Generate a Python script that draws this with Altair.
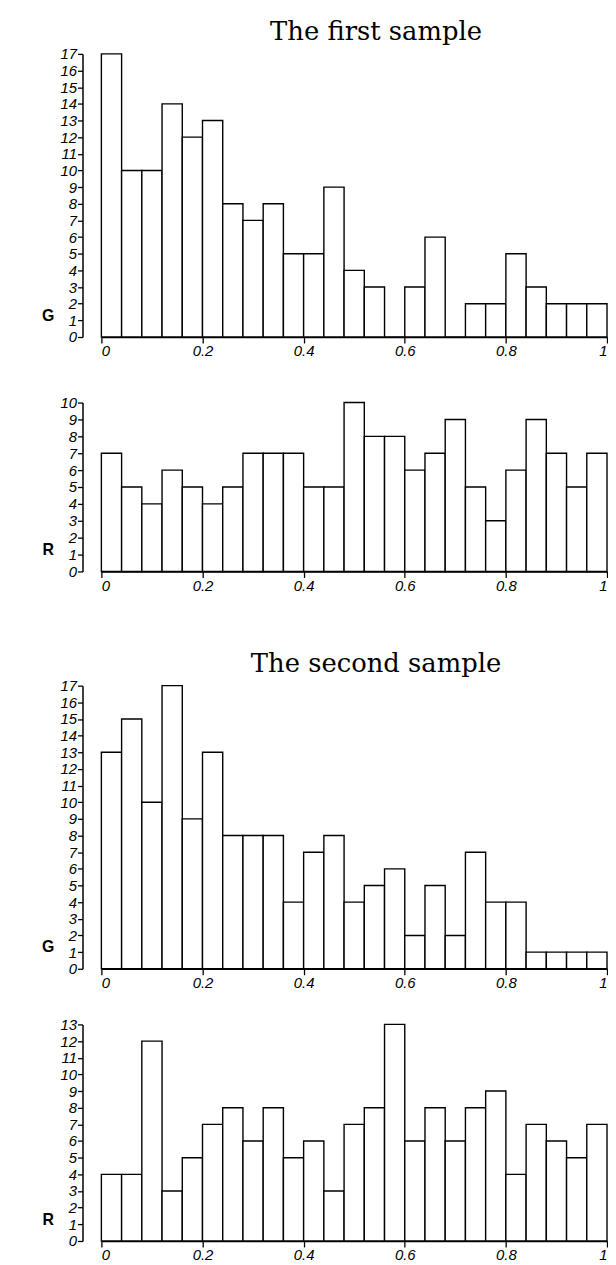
import altair as alt
import pandas as pd

n_bins = 25
g1 = [17, 10, 10, 14, 12, 13, 8, 7, 8, 5, 5, 9, 4, 3, 0, 3, 6, 0, 2, 2, 5, 3, 2, 2, 2]
r1 = [7, 5, 4, 6, 5, 4, 5, 7, 7, 7, 5, 5, 10, 8, 8, 6, 7, 9, 5, 3, 6, 9, 7, 5, 7]
g2 = [13, 15, 10, 17, 9, 13, 8, 8, 8, 4, 7, 8, 4, 5, 6, 2, 5, 2, 7, 4, 4, 1, 1, 1, 1]
r2 = [4, 4, 12, 3, 5, 7, 8, 6, 8, 5, 6, 3, 7, 8, 13, 6, 8, 6, 8, 9, 4, 7, 6, 5, 7]
x_ticks = [0, 0.2, 0.4, 0.6, 0.8, 1]

TICK_FONT = "Liberation Sans"


def panel(values, label, ymax, height, title=None):
    edges = [i / n_bins for i in range(n_bins + 1)]
    df = pd.DataFrame({"x0": edges[:-1], "x1": edges[1:], "count": values})
    props = dict(width=509, height=height)
    if title is not None:
        props["title"] = alt.TitleParams(
            title, font="DejaVu Serif", fontSize=26, fontWeight="normal",
            anchor="middle", dx=22, offset=2, color="black")
    return alt.Chart(df).mark_rect(
        fill="white", stroke="black", strokeWidth=1.4
    ).encode(
        x=alt.X("x0:Q", scale=alt.Scale(domain=[0, 1], nice=False, zero=False),
                axis=alt.Axis(values=x_ticks, format=".1~f", title=None,
                              grid=False, tickSize=6, labelFontSize=15,
                              labelFont=TICK_FONT, labelFontStyle="italic",
                              labelColor="black", domainColor="black",
                              tickColor="black", domainWidth=1.5, tickWidth=1.3,
                              labelPadding=1)),
        x2="x1",
        y=alt.Y("count:Q", scale=alt.Scale(domain=[0, ymax], nice=False),
                axis=alt.Axis(values=list(range(ymax + 1)), title=label,
                              titleAngle=0, titleX=-35, titleY=height - 22,
                              titleAlign="center", titleBaseline="middle",
                              titleFont="Liberation Sans", titleFontSize=16,
                              titleFontWeight="bold", titleColor="black",
                              offset=19, grid=False, tickSize=5,
                              labelFontSize=15, labelFont=TICK_FONT,
                              labelFontStyle="italic", labelColor="black",
                              domainColor="black", tickColor="black",
                              domainWidth=1.5, tickWidth=1.3, labelPadding=1)),
        y2=alt.datum(0),
    ).properties(**props)


p1 = panel(g1, "G", 17, 285, "The first sample")
p2 = panel(r1, "R", 10, 170)
p3 = panel(g2, "G", 17, 285, "The second sample")
p4 = panel(r2, "R", 13, 218)

top = alt.vconcat(p1, p2, spacing=37)
bottom = alt.vconcat(p3, p4, spacing=27)
chart = alt.vconcat(top, bottom, spacing=58).properties(
    padding={"left": 33, "top": 7, "right": 0, "bottom": 0}
).configure_view(stroke=None)

chart.save("out.html", embed_options={"renderer": "svg", "actions": False})
